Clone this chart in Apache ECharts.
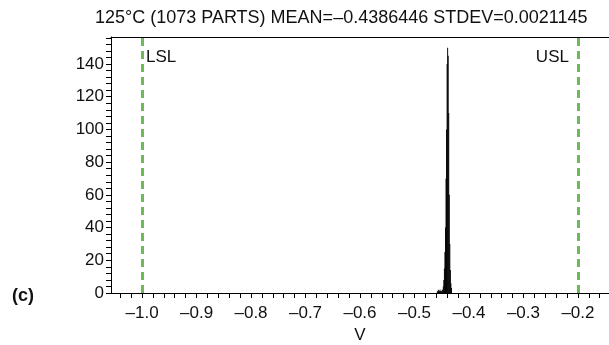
<!DOCTYPE html>
<html><head><meta charset="utf-8">
<script src="https://cdn.jsdelivr.net/npm/echarts@6/dist/echarts.min.js"></script>
<style>html,body{margin:0;padding:0;background:#fff}#c{width:609px;height:345px}</style>
</head><body><div id="c"></div>
<script>
// Histogram bins (left edges, V) and counts
var binWidth = 0.001;
var binStarts = [-0.459,-0.458,-0.457,-0.456,-0.455,-0.454,-0.453,-0.452,-0.451,-0.450,-0.449,
  -0.448,-0.447,-0.446,-0.445,-0.444,-0.443,-0.442,-0.441,-0.440,-0.439,-0.438,-0.437,-0.436,-0.435,-0.434,-0.433];
var counts = [1,1,2,1,1,2,1,1,1,2,2,
  4,8,15,25,40,70,100,140,150,145,110,60,30,14,6,3];
var specLimits = [-1.0, -0.2];
var specNames = ['LSL', 'USL'];
var xLabelValues = [-1.0,-0.9,-0.8,-0.7,-0.6,-0.5,-0.4,-0.3,-0.2];
var yLabelValues = [0,20,40,60,80,100,120,140];
var titleText = '125°C (1073 PARTS) MEAN=\u20130.4386446 STDEV=0.0021145';

var xMin = -1.057, xMax = -0.143, yMax = 156.5;
var xTicks = [];
for (var i = -52; i <= -8; i++) xTicks.push(+(i * 0.02).toFixed(2));
var yTicks = [];
for (var j = 0; j <= 39; j++) yTicks.push(j * 4);

var histData = binStarts.map(function (s, k) { return [s, s + binWidth, counts[k]]; });

var chart = echarts.init(document.getElementById('c'), null, {renderer: 'canvas'});
var font = 'Liberation Sans, Arial, sans-serif';
chart.setOption({
  animation: false,
  backgroundColor: '#fff',
  title: {
    text: titleText, left: 90, top: 4,
    textStyle: {fontFamily: font, fontSize: 18, fontWeight: 'normal', color: '#111'}
  },
  grid: {left: 111, top: 37, right: 0, bottom: 52, show: false, containLabel: false, outerBoundsMode: 'none'},
  xAxis: [{
    type: 'value', min: xMin, max: xMax,
    name: 'V', nameLocation: 'middle', nameGap: 24,
    nameTextStyle: {fontFamily: font, fontSize: 17, color: '#111', verticalAlign: 'top'},
    axisLine: {show: true, onZero: false, lineStyle: {color: '#000', width: 1}},
    axisTick: {show: true, inside: false, length: 5, customValues: xTicks, lineStyle: {color: '#000'}},
    axisLabel: {customValues: xLabelValues, fontFamily: font, fontSize: 17, color: '#111', margin: 12,
      formatter: function (v) { return (v < 0 ? '\u2013' : '') + Math.abs(v).toFixed(1); }},
    splitLine: {show: false}
  }, {
    type: 'value', position: 'top', min: xMin, max: xMax,
    axisLine: {show: true, onZero: false, lineStyle: {color: '#000', width: 1}},
    axisTick: {show: false}, axisLabel: {show: false}, splitLine: {show: false}
  }],
  yAxis: {
    type: 'value', min: 0, max: yMax,
    axisLine: {show: true, lineStyle: {color: '#000', width: 1}},
    axisTick: {show: true, length: 5, customValues: yTicks, lineStyle: {color: '#000'}},
    axisLabel: {customValues: yLabelValues, fontFamily: font, fontSize: 17, color: '#111', margin: 7},
    splitLine: {show: false}
  },
  series: [{
    type: 'custom',
    data: histData,
    encode: {x: [0, 1], y: 2},
    renderItem: function (params, api) {
      var p0 = api.coord([api.value(0), api.value(2)]);
      var p1 = api.coord([api.value(1), 0]);
      return {
        type: 'rect',
        shape: {x: p0[0], y: p0[1], width: p1[0] - p0[0] + 0.4, height: p1[1] - p0[1]},
        style: {fill: '#000'}
      };
    },
    z: 3
  }, {
    type: 'line', data: [], symbol: 'none',
    markLine: {
      silent: true, symbol: 'none',
      lineStyle: {color: '#6cbb58', type: [8, 5], width: 3},
      label: {show: false},
      data: specLimits.map(function (v) { return {xAxis: v}; })
    },
    markPoint: {
      symbol: 'circle', symbolSize: 0,
      label: {show: true, fontFamily: font, fontSize: 17, color: '#111',
        formatter: function (p) { return p.name; }},
      data: [
        {name: specNames[0], coord: [specLimits[0], 144], label: {position: 'right', distance: 4}},
        {name: specNames[1], coord: [specLimits[1], 144], label: {position: 'left', distance: 9}}
      ]
    }
  }],
  graphic: [{
    type: 'text', left: 12, top: 287,
    style: {text: '(c)', fontFamily: font, fontSize: 18, fontWeight: 'bold', fill: '#111'}
  }]
});
</script></body></html>
